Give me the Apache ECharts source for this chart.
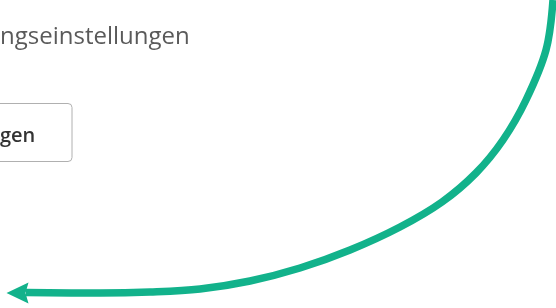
<!DOCTYPE html>
<html>
<head>
<meta charset="utf-8">
<script src="https://cdn.jsdelivr.net/npm/echarts@6/dist/echarts.min.js"></script>
<style>
  html, body { margin: 0; padding: 0; background: #fff; }
  #chart { width: 556px; height: 308px; }
</style>
</head>
<body>
<div id="chart"></div>
<script>
// arrow path (pixel space, y downwards)
const arrowX = [553, 546, 526, 503, 476, 442, 400, 350, 300, 250, 200, 150, 100, 26];
const arrowY = [0, 50, 100, 140, 173, 202, 227, 250, 268, 281, 289, 292, 293, 292.5];
// arrow head centre
const headX = [17.5];
const headY = [293];

const labelText = 'ngseinstellungen';
const buttonText = 'gen';

const GREEN = '#12b28b';

var myChart = echarts.init(document.getElementById('chart'));

var option = {
    animation: false,
    grid: { left: 0, right: 0, top: 0, bottom: 0 },
    xAxis: { type: 'value', min: 0, max: 556, show: false },
    yAxis: { type: 'value', min: 0, max: 308, inverse: true, show: false },
    graphic: [
        {
            type: 'text',
            left: 0,
            top: 25,
            style: {
                text: labelText,
                font: '24px "Open Sans"',
                fill: '#5a5a5a'
            }
        },
        {
            type: 'rect',
            shape: { x: -20, y: 103.5, width: 92, height: 58, r: 4 },
            style: { fill: '#ffffff', stroke: '#b0b0b0', lineWidth: 1 }
        },
        {
            type: 'text',
            left: 0,
            top: 126,
            style: {
                text: buttonText,
                font: '600 20px "Open Sans"',
                fill: '#333333'
            }
        }
    ],
    series: [
        {
            type: 'line',
            smooth: 0.35,
            symbol: 'none',
            data: arrowX.map((x, i) => [x, arrowY[i]]),
            lineStyle: { color: GREEN, width: 7.5, cap: 'butt' }
        },
        {
            // arrow head, scatter defaults to 0.8 opacity so force solid
            type: 'scatter',
            symbol: 'path://M0,10 L22,0 L19,10 L22,20 Z',
            symbolSize: [22, 21],
            symbolKeepAspect: false,
            itemStyle: { color: GREEN, opacity: 1 },
            data: headX.map((x, i) => [x, headY[i]])
        }
    ]
};

myChart.setOption(option);
</script>
</body>
</html>
